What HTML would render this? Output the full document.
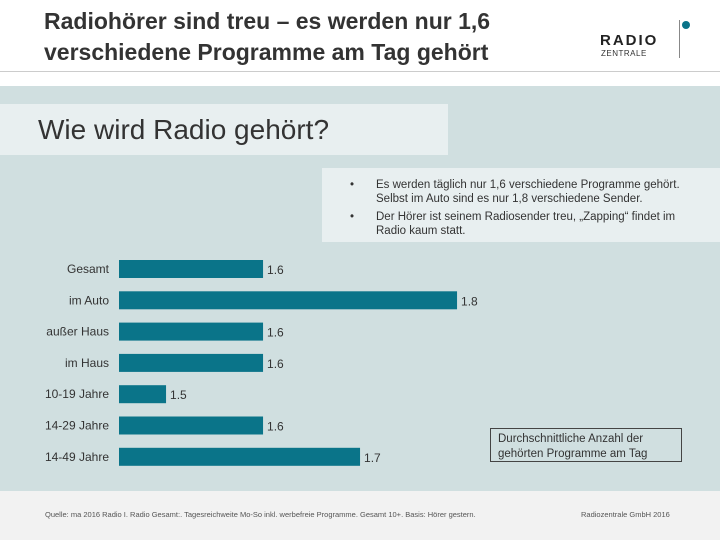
<!DOCTYPE html>
<html><head><meta charset="utf-8"><style>
body{margin:0;width:720px;height:540px;overflow:hidden;background:#fff;font-family:"Liberation Sans",sans-serif;position:relative}
.a{position:absolute}
</style></head><body>
<div class="a" style="left:44px;top:6px;font-size:23px;font-weight:bold;color:#333;line-height:31px">Radiohörer sind treu – es werden nur 1,6<br>verschiedene Programme am Tag gehört</div>
<div class="a" style="left:600px;top:32px;width:90px;height:30px">
 <div class="a" style="left:0;top:0;font-size:15px;font-weight:900;letter-spacing:2px;color:#222">RADIO</div>
 <div class="a" style="left:1px;top:17px;font-size:8px;color:#333;letter-spacing:0.5px">ZENTRALE</div>
 <div class="a" style="left:79px;top:-12px;width:1px;height:38px;background:#888"></div>
 <div class="a" style="left:82px;top:-11px;width:8px;height:8px;border-radius:50%;background:#0a7489"></div>
</div>
<div class="a" style="left:0;top:71px;width:720px;height:1px;background:#ccc"></div>
<div class="a" style="left:0;top:86px;width:720px;height:405px;background:#d0dfe0"></div>
<div class="a" style="left:0;top:104px;width:448px;height:51px;background:#e8eff0"></div>
<div class="a" style="left:38px;top:114px;font-size:28px;color:#333">Wie wird Radio gehört?</div>
<div class="a" style="left:322px;top:168px;width:398px;height:74px;background:#e8eff0;font-size:11.5px;color:#333;line-height:14px">
 <div class="a" style="left:28px;top:10px">•</div><div class="a" style="left:54px;top:10px;width:322px">Es werden täglich nur 1,6 verschiedene Programme gehört. Selbst im Auto sind es nur 1,8 verschiedene Sender.</div>
 <div class="a" style="left:28px;top:42px">•</div><div class="a" style="left:54px;top:42px;width:322px">Der Hörer ist seinem Radiosender treu, „Zapping“ findet im Radio kaum statt.</div>
</div>
<svg class="a" style="left:0;top:0" width="720" height="540" id="chart"></svg>
<div class="a" style="left:490px;top:428px;width:192px;height:34px;border:1px solid #444;font-size:11.5px;color:#333;line-height:15px;padding:3px 0 0 7px;box-sizing:border-box">Durchschnittliche Anzahl der gehörten Programme am Tag</div>
<div class="a" style="left:0;top:491px;width:720px;height:49px;background:#f2f2f2"></div>
<div class="a" style="left:45px;top:510px;font-size:7.5px;color:#555">Quelle: ma 2016 Radio I. Radio Gesamt:. Tagesreichweite Mo-So inkl. werbefreie Programme. Gesamt 10+. Basis: Hörer gestern.</div>
<div class="a" style="left:581px;top:510px;font-size:7.5px;color:#555">Radiozentrale GmbH 2016</div>
<script>
const categories=["Gesamt","im Auto","außer Haus","im Haus","10-19 Jahre","14-29 Jahre","14-49 Jahre"];
const values=[1.6,1.8,1.6,1.6,1.5,1.6,1.7];
const valueLabels=["1.6","1.8","1.6","1.6","1.5","1.6","1.7"];
const svg=document.getElementById('chart');
const NS='http://www.w3.org/2000/svg';
function x(v){return 119+(v-1.4515)*970;}
function y(i){return 269+i*31.3;}
categories.forEach((c,i)=>{
 const r=document.createElementNS(NS,'rect');
 r.setAttribute('x',119);r.setAttribute('y',y(i)-9);
 r.setAttribute('width',x(values[i])-119);r.setAttribute('height',18);
 r.setAttribute('fill','#0a7489');
 
 
 svg.appendChild(r);
 const t=document.createElementNS(NS,'text');
 t.setAttribute('x',109);t.setAttribute('y',y(i)+4);t.setAttribute('text-anchor','end');
 t.setAttribute('font-size','12');t.setAttribute('fill','#333');t.setAttribute('font-family','Liberation Sans, sans-serif');
 t.textContent=c;
 
 
 svg.appendChild(t);
 const v=document.createElementNS(NS,'text');
 v.setAttribute('x',x(values[i])+4);v.setAttribute('y',y(i)+5);
 v.setAttribute('font-size','12');v.setAttribute('fill','#333');v.setAttribute('font-family','Liberation Sans, sans-serif');
 v.textContent=valueLabels[i];
 
 
 svg.appendChild(v);
});
</script>
</body></html>
